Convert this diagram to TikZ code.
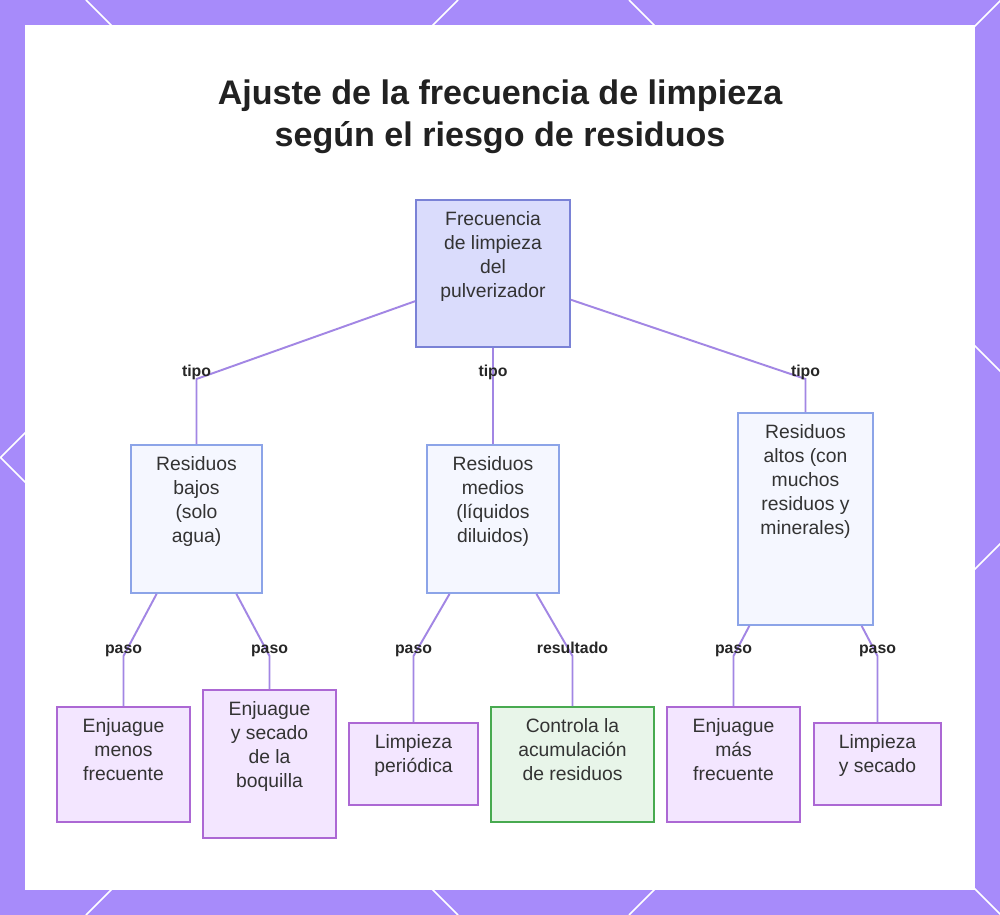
\documentclass[tikz,border=0pt]{standalone}
\usepackage{fontspec}
\setmainfont{Liberation Sans}
\usepackage{xcolor}
\definecolor{framepurple}{RGB}{167,139,250}
\definecolor{rootfill}{RGB}{218,220,252}
\definecolor{rootline}{RGB}{122,130,214}
\definecolor{typefill}{RGB}{245,247,255}
\definecolor{typeline}{RGB}{140,164,232}
\definecolor{stepfill}{RGB}{243,230,255}
\definecolor{stepline}{RGB}{172,104,212}
\definecolor{okfill}{RGB}{232,245,233}
\definecolor{okline}{RGB}{72,170,80}
\definecolor{linkcol}{RGB}{162,134,228}
\definecolor{txtgray}{RGB}{51,51,51}
\usetikzlibrary{positioning,fit}

\begin{document}
\begin{tikzpicture}[x=0.02cm,y=-0.02cm,
  boxtext/.style={align=center,font=\fontsize{11}{13.6}\selectfont,text=txtgray,
    inner sep=0pt,anchor=north,yshift=-0.24cm},
  rootbox/.style={draw=rootline,fill=rootfill,line width=1pt,inner sep=0pt},
  typebox/.style={draw=typeline,fill=typefill,line width=1pt,inner sep=0pt},
  stepbox/.style={draw=stepline,fill=stepfill,line width=1pt,inner sep=0pt},
  okbox/.style={draw=okline,fill=okfill,line width=1pt,inner sep=0pt},
  link/.style={draw=linkcol,line width=1.1pt},
  linklbl/.style={font=\bfseries\fontsize{9}{11}\selectfont,text=black!85,inner sep=0pt,anchor=base}
]
  % frame
  \useasboundingbox (0,0) rectangle (1000,915);
  \fill[framepurple] (0,0) rectangle (1000,915);
  \begin{scope}
    \clip (0,0) rectangle (1000,915);
    \draw[white,line width=0.9pt] (458,0) -- (0,458) (1001,0) -- (86,915) (1544,0) -- (629,915)
      (0,457) -- (458,915) (86,0) -- (1001,915) (629,0) -- (1544,915);
  \end{scope}
  \fill[white] (25,25) rectangle (975,890);

  \node[font=\bfseries\fontsize{19.4}{23.8}\selectfont,text=black!87,align=center] (title) at (500,117)
    {Ajuste de la frecuencia de limpieza\\según el riesgo de residuos};

  % boxes
  \node[rootbox,fit={(416,200)(570,347)},label={[boxtext]north:{Frecuencia\\de limpieza\\del\\pulverizador}}] (freq) {};
  \node[typebox,fit={(131,445)(262,593)},label={[boxtext]north:{Residuos\\bajos\\(solo\\agua)}}] (bajos) {};
  \node[typebox,fit={(427,445)(559,593)},label={[boxtext]north:{Residuos\\medios\\(líquidos\\diluidos)}}] (medios) {};
  \node[typebox,fit={(738,413)(873,625)},label={[boxtext]north:{Residuos\\altos (con\\muchos\\residuos y\\minerales)}}] (altos) {};
  \node[stepbox,fit={(57,707)(190,822)},label={[boxtext]north:{Enjuague\\menos\\frecuente}}] (menos) {};
  \node[stepbox,fit={(203,690)(336,838)},label={[boxtext]north:{Enjuague\\y secado\\de la\\boquilla}}] (boquilla) {};
  \node[stepbox,fit={(349,723)(478,805)},label={[boxtext]north:{Limpieza\\periódica}}] (periodica) {};
  \node[okbox,fit={(491,707)(654,822)},label={[boxtext]north:{Controla la\\acumulación\\de residuos}}] (controla) {};
  \node[stepbox,fit={(667,707)(800,822)},label={[boxtext]north:{Enjuague\\más\\frecuente}}] (mas) {};
  \node[stepbox,fit={(814,723)(941,805)},label={[boxtext]north:{Limpieza\\y secado}}] (secado) {};

  % bends
  \coordinate (kBajos) at (196.5,379);
  \coordinate (kMedios) at (493,379);
  \coordinate (kAltos) at (805.5,379);
  \coordinate (kMenos) at (123.5,656);
  \coordinate (kBoquilla) at (269.5,656);
  \coordinate (kPeriodica) at (413.5,656);
  \coordinate (kControla) at (572.5,656);
  \coordinate (kMas) at (733.5,656);
  \coordinate (kSecado) at (877.5,656);

  \draw[link] (freq) -- (kBajos) -- (bajos.north);
  \draw[link] (freq.south) -- (kMedios) -- (medios.north);
  \draw[link] (freq) -- (kAltos) -- (altos.north);
  \draw[link] (bajos) -- (kMenos) -- (menos.north);
  \draw[link] (bajos) -- (kBoquilla) -- (boquilla.north);
  \draw[link] (medios) -- (kPeriodica) -- (periodica.north);
  \draw[link] (medios) -- (kControla) -- (controla.north);
  \draw[link] (altos) -- (kMas) -- (mas.north);
  \draw[link] (altos) -- (kSecado) -- (secado.north);

  \node[linklbl] (lBajos) at ([yshift=0.06cm]kBajos) {tipo};
  \node[linklbl] (lMedios) at ([yshift=0.06cm]kMedios) {tipo};
  \node[linklbl] (lAltos) at ([yshift=0.06cm]kAltos) {tipo};
  \node[linklbl] (lMenos) at ([yshift=0.06cm]kMenos) {paso};
  \node[linklbl] (lBoquilla) at ([yshift=0.06cm]kBoquilla) {paso};
  \node[linklbl] (lPeriodica) at ([yshift=0.06cm]kPeriodica) {paso};
  \node[linklbl] (lControla) at ([yshift=0.06cm]kControla) {resultado};
  \node[linklbl] (lMas) at ([yshift=0.06cm]kMas) {paso};
  \node[linklbl] (lSecado) at ([yshift=0.06cm]kSecado) {paso};
\end{tikzpicture}
\end{document}
